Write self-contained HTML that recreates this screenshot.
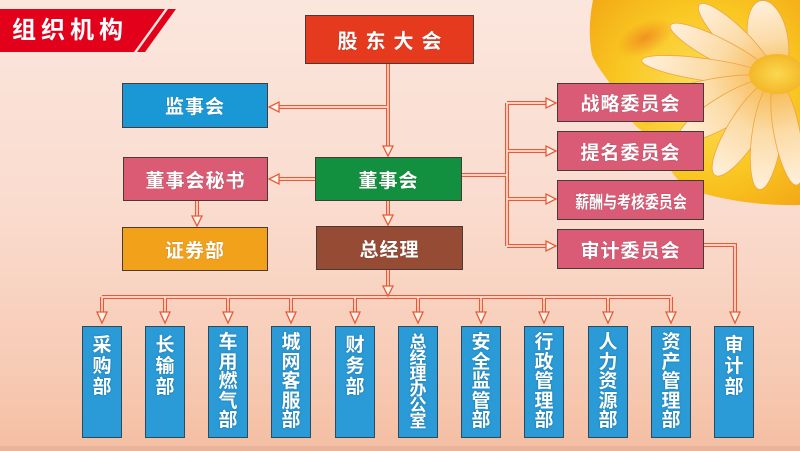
<!DOCTYPE html>
<html><head><meta charset="utf-8">
<style>
html,body{margin:0;padding:0;}
body{width:800px;height:451px;overflow:hidden;position:relative;font-family:"Liberation Sans","Noto Sans CJK SC",sans-serif;
background:linear-gradient(180deg,#fbe6dd 0%,#fadccf 45%,#f7ccb6 80%,#f4bea2 100%);}
.b{position:absolute;box-sizing:border-box;border:1px solid #4a3a36;color:#fff;font-weight:bold;display:flex;align-items:center;justify-content:center;font-size:19px;letter-spacing:1px;text-shadow:0 0 1px rgba(0,0,0,.35);white-space:nowrap;}
.v{position:absolute;box-sizing:border-box;border:1px solid #2a4a5e;background:#2b9bd7;color:#fff;font-weight:bold;font-size:19px;line-height:21px;width:40px;height:112px;top:326px;text-align:center;padding-top:8px;text-shadow:0 0 2px #1d6fa0;overflow:hidden;}
.v5{line-height:19.5px;padding-top:6px;}
.v6{font-size:17px;line-height:15.8px;padding-top:8px;}
svg{position:absolute;left:0;top:0;}
</style></head><body>
<svg width="800" height="451" viewBox="0 0 800 451">
<defs>
<radialGradient id="py" cx="0.55" cy="0.45" r="0.75"><stop offset="0" stop-color="#fce060"/><stop offset="0.55" stop-color="#f9c722"/><stop offset="1" stop-color="#f2a414"/></radialGradient>
<linearGradient id="pw" x1="0" y1="0" x2="1" y2="0"><stop offset="0" stop-color="#fff0dc"/><stop offset="0.5" stop-color="#fcdca8"/><stop offset="1" stop-color="#f6b548"/></linearGradient>
<radialGradient id="pod" cx="0.5" cy="0.5" r="0.6"><stop offset="0" stop-color="#fbd850"/><stop offset="1" stop-color="#f2b020"/></radialGradient>
<radialGradient id="red" cx="0.5" cy="0.5" r="0.5"><stop offset="0" stop-color="#e8501a" stop-opacity="0.45"/><stop offset="1" stop-color="#e8501a" stop-opacity="0"/></radialGradient>
</defs>
<rect x="0" y="446" width="800" height="5" fill="#e8b59c"/>
<!-- flower -->
<path d="M593,0 L800,0 L800,205 C760,206 722,200 692,190 C672,180 664,160 660,142 C640,132 626,120 618,98 C610,80 598,70 592,55 C588,35 590,15 593,0 Z" fill="url(#py)"/>
<ellipse cx="645" cy="38" rx="30" ry="16" transform="rotate(-25 645 38)" fill="url(#red)"/>
<ellipse cx="660" cy="108" rx="24" ry="12" transform="rotate(-40 660 108)" fill="url(#red)"/>
<g stroke="#f0a440" stroke-width="0.8">
<ellipse cx="768" cy="40" rx="40" ry="20" transform="rotate(80 768 40)" fill="url(#pw)"/>
<ellipse cx="737" cy="42" rx="53" ry="13" transform="rotate(45 737 42)" fill="url(#pw)"/>
<ellipse cx="722" cy="52" rx="58" ry="12" transform="rotate(27.5 722 52)" fill="url(#pw)"/>
<ellipse cx="708" cy="70" rx="67" ry="11" transform="rotate(8.3 708 70)" fill="url(#pw)"/>
<ellipse cx="712" cy="92" rx="63" ry="13" transform="rotate(-10.5 712 92)" fill="url(#pw)"/>
<ellipse cx="727" cy="110" rx="56" ry="15" transform="rotate(-31 727 110)" fill="url(#pw)"/>
<ellipse cx="745" cy="128" rx="56" ry="16" transform="rotate(-57.7 745 128)" fill="url(#pw)"/>
<ellipse cx="767" cy="135" rx="55" ry="15" transform="rotate(-82 767 135)" fill="url(#pw)"/>
<ellipse cx="787" cy="133" rx="53" ry="13" transform="rotate(-100.8 787 133)" fill="url(#pw)"/>
</g>
<ellipse cx="777" cy="74" rx="28" ry="20" fill="url(#pod)"/>
<!-- title banner -->
<polygon points="0,9 165,9 134,52 0,52" fill="#e2001a"/>
<polygon points="168,9 176,9 145,52 137,52" fill="#e2001a"/>
<g fill="none" stroke-linejoin="miter">
<g stroke="#e85a36" stroke-width="4">
<path d="M388 64V150M388 107H276M315 179H276M197 201V220M388 201V219M388 270V291M102 297H671M102 297V316M165 297V316M228 297V316M291 297V316M355 297V316M418 297V316M481 297V316M544 297V316M608 297V316M671 297V316M462 175H507M507 103V246M507 103H548M507 151H548M507 199H548M507 246H548M704 245H735V316"/>
</g>
<g stroke="#fff3ec" stroke-width="1.4">
<path d="M388 64V150M388 107H276M315 179H276M197 201V220M388 201V219M388 270V291M102 297H671M102 297V316M165 297V316M228 297V316M291 297V316M355 297V316M418 297V316M481 297V316M544 297V316M608 297V316M671 297V316M462 175H507M507 103V246M507 103H548M507 151H548M507 199H548M507 246H548M704 245H735V316"/>
</g>
</g>
<g fill="#fff3ec" stroke="#e85a36" stroke-width="1.3">
<polygon points="383,146 393,146 388,156"/>
<polygon points="192,216 202,216 197,226"/>
<polygon points="383,215 393,215 388,225"/>
<polygon points="383,286 393,286 388,296"/>
<polygon points="97,312 107,312 102,323"/>
<polygon points="160,312 170,312 165,323"/>
<polygon points="223,312 233,312 228,323"/>
<polygon points="286,312 296,312 291,323"/>
<polygon points="350,312 360,312 355,323"/>
<polygon points="413,312 423,312 418,323"/>
<polygon points="476,312 486,312 481,323"/>
<polygon points="539,312 549,312 544,323"/>
<polygon points="603,312 613,312 608,323"/>
<polygon points="666,312 676,312 671,323"/>
<polygon points="730,312 740,312 735,323"/>
<polygon points="279,102 279,112 269,107"/>
<polygon points="279,174 279,184 269,179"/>
<polygon points="546,98 546,108 556,103"/>
<polygon points="546,146 546,156 556,151"/>
<polygon points="546,194 546,204 556,199"/>
<polygon points="546,241 546,251 556,246"/>
</g>
</svg>
<div style="position:absolute;left:12px;top:15px;color:#fff;font-weight:bold;font-size:24px;letter-spacing:5px;line-height:32px;">组织机构</div>

<div class="b" style="left:305px;top:15px;width:169px;height:49px;background:#e63a1f;font-size:20px;letter-spacing:8px;padding-left:8px;">股东大会</div>
<div class="b" style="left:122px;top:83px;width:146px;height:45px;background:#1a97d5;">监事会</div>
<div class="b" style="left:123px;top:157px;width:145px;height:44px;background:#dc5b74;">董事会秘书</div>
<div class="b" style="left:315px;top:157px;width:147px;height:44px;background:#13903f;">董事会</div>
<div class="b" style="left:122px;top:227px;width:146px;height:44px;background:#f2a11b;">证券部</div>
<div class="b" style="left:316px;top:226px;width:147px;height:44px;background:#964b35;">总经理</div>

<div class="b" style="left:557px;top:83px;width:147px;height:39px;background:#da5b75;">战略委员会</div>
<div class="b" style="left:557px;top:131px;width:147px;height:40px;background:#da5b75;">提名委员会</div>
<div class="b" style="left:557px;top:180px;width:147px;height:40px;background:#da5b75;"><span style="display:inline-block;font-size:17px;letter-spacing:0;transform:scaleX(0.82);">薪酬与考核委员会</span></div>
<div class="b" style="left:557px;top:229px;width:147px;height:40px;background:#da5b75;">审计委员会</div>

<div class="v" style="left:82px;">采<br>购<br>部</div>
<div class="v" style="left:145px;">长<br>输<br>部</div>
<div class="v v5" style="left:208px;">车<br>用<br>燃<br>气<br>部</div>
<div class="v v5" style="left:271px;">城<br>网<br>客<br>服<br>部</div>
<div class="v" style="left:335px;">财<br>务<br>部</div>
<div class="v v6" style="left:398px;">总<br>经<br>理<br>办<br>公<br>室</div>
<div class="v v5" style="left:461px;">安<br>全<br>监<br>管<br>部</div>
<div class="v v5" style="left:524px;">行<br>政<br>管<br>理<br>部</div>
<div class="v v5" style="left:588px;">人<br>力<br>资<br>源<br>部</div>
<div class="v v5" style="left:651px;">资<br>产<br>管<br>理<br>部</div>
<div class="v" style="left:714px;">审<br>计<br>部</div>
</body></html>
